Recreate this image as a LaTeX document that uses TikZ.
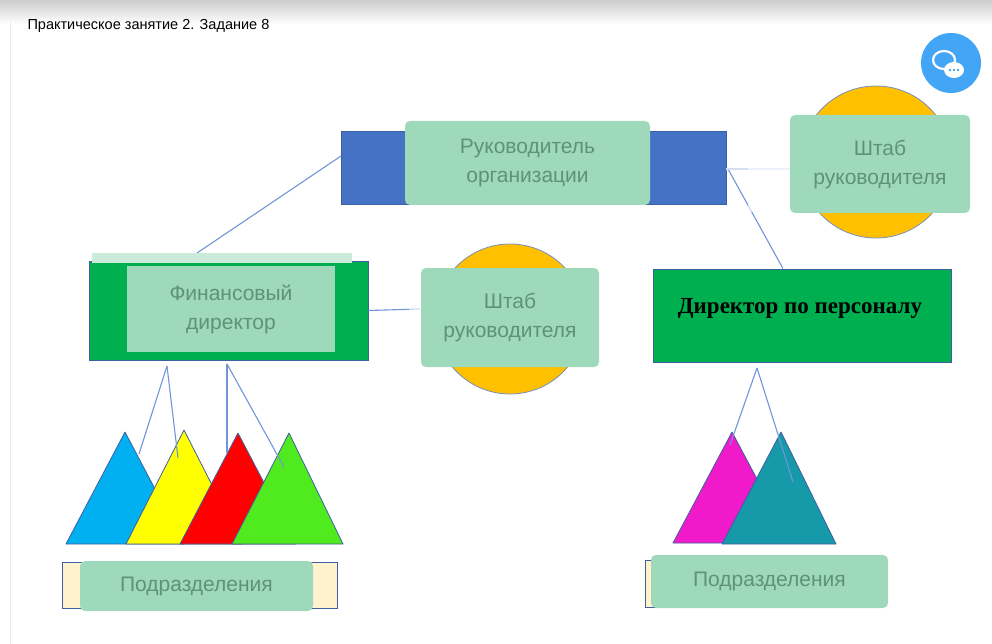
\documentclass[tikz,border=0pt]{standalone}
\usepackage{fontspec}
\setmainfont{Liberation Serif}
\setsansfont{Liberation Sans}
\usepackage{tikz}
\usetikzlibrary{positioning}

\definecolor{headblue}{HTML}{4472C4}
\definecolor{boxgreen}{HTML}{00B050}
\definecolor{staffgold}{HTML}{FFC000}
\definecolor{tagmint}{HTML}{9FD9BC}
\definecolor{tagtext}{HTML}{5F9276}
\definecolor{linkblue}{HTML}{7095D8}
\definecolor{edgeblue}{HTML}{3F5FA0}
\definecolor{chatblue}{HTML}{42A5F5}
\definecolor{labelcream}{HTML}{FFF2CC}
\definecolor{triblue}{HTML}{00B0F0}
\definecolor{triyellow}{HTML}{FFFF00}
\definecolor{trired}{HTML}{FF0000}
\definecolor{trigreen}{HTML}{50EB1E}
\definecolor{trimagenta}{HTML}{F01ACB}
\definecolor{triteal}{HTML}{1699A8}

\begin{document}
\begin{tikzpicture}[x=1pt,y=-1pt,
    box/.style={rectangle, draw=edgeblue, line width=0.8pt, inner sep=0pt},
    staff/.style={circle, draw=edgeblue!70, fill=staffgold, line width=0.8pt, minimum size=152pt, inner sep=0pt},
    tag/.style={rectangle, rounded corners=5pt, fill=tagmint, text=tagtext, font=\sffamily\fontsize{21}{29}\selectfont, align=center, inner sep=0pt},
    link/.style={draw=linkblue, line width=1.1pt},
    tri/.style={draw=edgeblue, line width=0.8pt, line join=round}]
    \useasboundingbox (0,0) rectangle (992,644);

    % Page header
    \shade[top color=black!20, bottom color=white] (0,0) rectangle (992,24);
    \draw[black!8] (10,22) -- (10,644);
    \node[anchor=west, font=\sffamily\fontsize{14.5}{17}\selectfont] (title) at (24,26) {Практическое занятие 2. Задание 8};

    % Chat button
    \node[circle, fill=chatblue, minimum size=60pt, inner sep=0pt] (chat) at (951,63) {};
    \draw[white, line width=2.2pt] (944,60) ellipse (11 and 9);
    \fill[white] (954,70) ellipse (10 and 8);
    \foreach \dx in {-4,0,4} \fill[chatblue] (954+\dx,70) circle (1.3);

    % Staff circles
    \node[staff] (staffA) at (876,162) {};
    \node[staff, minimum size=150pt] (staffB) at (510,319) {};

    % Boxes
    \node[box, fill=headblue, minimum width=385pt, minimum height=73pt] (head) at (533.5,167.5) {};
    \node[box, fill=boxgreen, minimum width=279pt, minimum height=99pt] (fin) at (228.5,310.5) {};
    \node[box, fill=boxgreen, minimum width=298pt, minimum height=93pt] (hr) at (802,315.5) {};
    \node[font=\bfseries\fontsize{23}{26}\selectfont] (hrtext) at (800,308) {Директор по персоналу};
    \node[box, fill=labelcream, minimum width=275pt, minimum height=46pt] (units) at (199.5,585) {};
    \node[box, fill=labelcream, minimum width=235pt, minimum height=47pt] (subs) at (762.5,583.5) {};

    % Triangles, finance director
    \filldraw[tri, fill=triblue]   (125,432) coordinate (t1) -- (184,544) -- (66,544) -- cycle;
    \filldraw[tri, fill=triyellow] (184,430) coordinate (t2) -- (242,544) -- (126,544) -- cycle;
    \filldraw[tri, fill=trired]    (238,433) coordinate (t3) -- (296,544) -- (180,544) -- cycle;
    \filldraw[tri, fill=trigreen]  (289,433) coordinate (t4) -- (343,544) -- (232,544) -- cycle;

    % Triangles, HR director
    \filldraw[tri, fill=trimagenta] (732,432) coordinate (t5) -- (791,543) -- (673,543) -- cycle;
    \filldraw[tri, fill=triteal]    (781,432) coordinate (t6) -- (836,544) -- (722,544) -- cycle;

    % Connectors
    \coordinate (headL) at (341,156);
    \coordinate (headR) at (728,169);
    \coordinate (finT) at (197,253);
    \coordinate (finB1) at (167,366);
    \coordinate (finB2) at (227,364);
    \coordinate (hrB) at (757,368);
    \coordinate (e1) at (139,454);
    \coordinate (e2) at (178,458);
    \coordinate (e3) at (227,453);
    \coordinate (e4) at (284,467);
    \coordinate (e5) at (730,445);
    \coordinate (e6) at (793,482);
    \draw[link] (headL) -- (finT);
    \draw[link] (headR) -- (hr.north -| 783,0);
    \draw[link, draw=linkblue!30] (head.east |- headR) -- (792,169);
    \draw[link] (fin.east) -- (420,309);
    \draw[link] (finB1) -- (e1);
    \draw[link] (finB1) -- (e2);
    \draw[link] (finB2) -- (e3);
    \draw[link] (finB2) -- (e4);
    \draw[link] (hrB) -- (e5);
    \draw[link] (hrB) -- (e6);

    % Hidden answers (blurred in the task)
    \fill[white, opacity=0.6] (748,125) rectangle (790,212);
    \fill[white, opacity=0.6] (409,286) rectangle (421,325);
    \fill[tagmint!55] (92,253) rectangle (352,263);
    \node[tag, minimum width=245pt, minimum height=84pt] (headtag) at (527.5,163) {Руководитель\\организации};
    \node[tag, minimum width=180pt, minimum height=98pt] (staffAtag) at (880,164) {Штаб\\руководителя};
    \node[tag, rounded corners=0pt, minimum width=208pt, minimum height=86pt] (fintag) at (231,309) {Финансовый\\директор};
    \node[tag, minimum width=178pt, minimum height=99pt] (staffBtag) at (510,317.5) {Штаб\\руководителя};
    \node[tag, minimum width=233pt, minimum height=50pt] (unitstag) at (196.5,586) {Подразделения};
    \node[tag, minimum width=237pt, minimum height=53pt] (substag) at (769.5,581.5) {Подразделения};
\end{tikzpicture}
\end{document}
